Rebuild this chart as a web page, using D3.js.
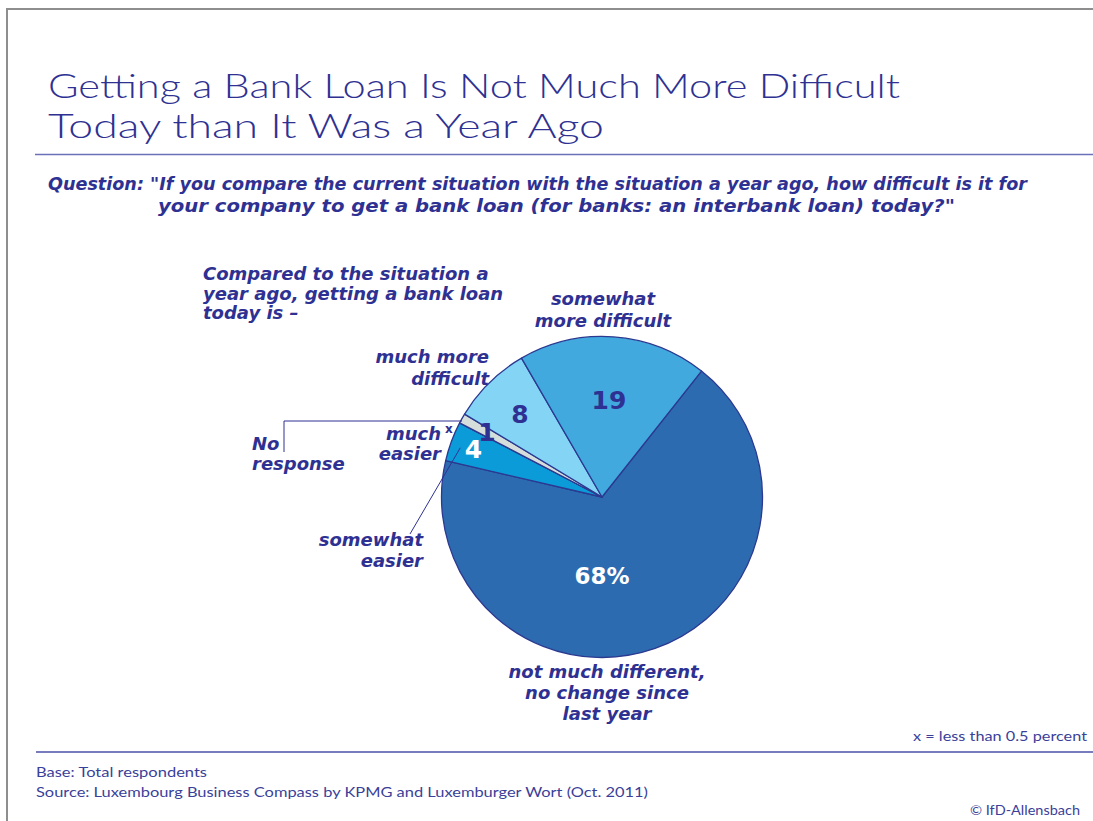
<!DOCTYPE html>
<html>
<head>
<meta charset="utf-8">
<script src="https://cdn.jsdelivr.net/npm/d3@7/dist/d3.min.js"></script>
<style>
  html, body { margin: 0; padding: 0; background: #fff; }
  svg { display: block; }
</style>
</head>
<body>
<svg id="chart" width="1093" height="821"></svg>
<script>
// Survey answers, in clockwise drawing order starting at the upper right
const categories = [
  "not much different, no change since last year",
  "somewhat easier",
  "much easier",
  "No response",
  "much more difficult",
  "somewhat more difficult"
];
const values = [68, 4, 0, 1, 8, 19];
const valueLabels = ["68%", "4", "", "1", "8", "19"];

const titleLines = [
  "Getting a Bank Loan Is Not Much More Difficult",
  "Today than It Was a Year Ago"
];
const questionLines = [
  "Question: \"If you compare the current situation with the situation a year ago, how difficult is it for",
  "your company to get a bank loan (for banks: an interbank loan) today?\""
];
const introLines = ["Compared to the situation a", "year ago, getting a bank loan", "today is \u2013"];
const footnote = "x = less than 0.5 percent";
const baseLine = "Base: Total respondents";
const sourceLine = "Source: Luxembourg Business Compass by KPMG and Luxemburger Wort (Oct. 2011)";
const copyright = "\u00a9 IfD-Allensbach";

// Styling
const sliceColors = ["#2d6bb1", "#0b9bd9", "#0b9bd9", "#d5dedb", "#84d4f6", "#41a9de"];
const valueColors = ["#ffffff", "#ffffff", "#2e3192", "#2e3192", "#2e3192", "#2e3192"];
const navy = "#2e3192";
const labelFont = "'DejaVu Sans', Verdana, sans-serif";
const thinFont = "Lato, 'Open Sans', Roboto, sans-serif";

const svg = d3.select("#chart");

// Page frame
svg.append("line").attr("x1", 6).attr("x2", 1093).attr("y1", 9).attr("y2", 9)
  .attr("stroke", "#8e8e8e").attr("stroke-width", 2);
svg.append("line").attr("x1", 7).attr("x2", 7).attr("y1", 8).attr("y2", 821)
  .attr("stroke", "#8e8e8e").attr("stroke-width", 2);

// Title
const title = svg.append("g").attr("fill", navy).attr("font-family", thinFont)
  .attr("font-weight", 300).attr("font-size", 34);
const titleWidths = [852, 556];
titleLines.forEach((t, i) => {
  title.append("text").attr("x", 48).attr("y", 98 + i * 40)
    .attr("textLength", titleWidths[i]).attr("lengthAdjust", "spacingAndGlyphs").text(t);
});
svg.append("line").attr("x1", 35).attr("x2", 1093).attr("y1", 154.5).attr("y2", 154.5)
  .attr("stroke", "#6b70b8").attr("stroke-width", 1.5);

// Question
const q = svg.append("g").attr("fill", navy).attr("font-family", labelFont)
  .attr("font-weight", "bold").attr("font-style", "italic").attr("font-size", 17);
q.append("text").attr("x", 48).attr("y", 190)
  .attr("textLength", 979).attr("lengthAdjust", "spacingAndGlyphs").text(questionLines[0]);
q.append("text").attr("x", 158).attr("y", 212)
  .attr("textLength", 797).attr("lengthAdjust", "spacingAndGlyphs").text(questionLines[1]);

// Helper for multi-line italic labels
function multiLabel(lines, x, y, anchor, lh) {
  const t = svg.append("text").attr("fill", navy).attr("font-family", labelFont)
    .attr("font-weight", "bold").attr("font-style", "italic").attr("font-size", 18)
    .attr("text-anchor", anchor);
  lines.forEach((l, i) => t.append("tspan").attr("x", x).attr("y", y + i * (lh || 21)).text(l));
  return t;
}

multiLabel(introLines, 203, 280, "start", 19.5);

// Pie
const cx = 602, cy = 497, radius = 160.5;
const startDeg = 38.3;
const pie = d3.pie().sort(null).value(d => d)
  .startAngle(startDeg * Math.PI / 180)
  .endAngle(startDeg * Math.PI / 180 + 2 * Math.PI);
const arcs = pie(values);
const arc = d3.arc().innerRadius(0).outerRadius(radius);

const pg = svg.append("g").attr("transform", `translate(${cx},${cy})`);
pg.selectAll("path.slice").data(arcs).join("path")
  .attr("class", "slice")
  .attr("d", arc)
  .attr("fill", (d, i) => sliceColors[i])
  .attr("stroke", "#2b3990").attr("stroke-width", 1.3).attr("stroke-linejoin", "round");

// Value labels: radial distance for each slice, angle from the slice middle
const labelRadius = [79, 137, 0, 132, 117, 97];
const labelAngleOverride = [Math.PI, null, null, null, null, null];
pg.selectAll("text.val").data(arcs).join("text")
  .attr("class", "val")
  .attr("transform", (d, i) => {
    const a = labelAngleOverride[i] !== null ? labelAngleOverride[i] : (d.startAngle + d.endAngle) / 2;
    const r = labelRadius[i];
    return `translate(${r * Math.sin(a)},${-r * Math.cos(a)})`;
  })
  .attr("dy", "0.36em")
  .attr("text-anchor", "middle")
  .attr("font-family", labelFont).attr("font-weight", "bold")
  .attr("font-size", (d, i) => i === 0 ? 23 : 25)
  .attr("fill", (d, i) => valueColors[i])
  .text((d, i) => valueLabels[i]);

// Category labels
multiLabel(["somewhat", "more difficult"], 603, 305, "middle", 22);
multiLabel(["much more", "difficult"], 489, 363, "end", 22);
multiLabel(["No", "response"], 252, 450, "start", 20);
multiLabel(["much", "easier"], 441, 440, "end", 20);
svg.append("text").attr("x", 445).attr("y", 433).attr("fill", navy)
  .attr("font-family", labelFont).attr("font-weight", "bold").attr("font-size", 12).text("x");
multiLabel(["somewhat", "easier"], 423, 546, "end", 21);
multiLabel(["not much different,", "no change since", "last year"], 607, 678, "middle", 21);

// Leader lines
const noResp = arcs[3];
const aNR = noResp.startAngle + (noResp.endAngle - noResp.startAngle) * 0.5;
const nrX = cx + radius * Math.sin(aNR);
svg.append("path")
  .attr("d", `M284,452 L284,421 L${nrX},421`)
  .attr("fill", "none").attr("stroke", navy).attr("stroke-width", 1);
const se = arcs[1];
const aSE = (se.startAngle + se.endAngle) / 2;
svg.append("line")
  .attr("x1", cx + 150 * Math.sin(aSE - 0.02)).attr("y1", cy - 150 * Math.cos(aSE - 0.02))
  .attr("x2", 410).attr("y2", 534)
  .attr("stroke", navy).attr("stroke-width", 1);

// Footer
svg.append("text").attr("x", 1087).attr("y", 741).attr("text-anchor", "end")
  .attr("fill", "#3a3f9a").attr("font-family", thinFont).attr("font-size", 14)
  .attr("textLength", 174).attr("lengthAdjust", "spacingAndGlyphs").text(footnote);
svg.append("line").attr("x1", 36).attr("x2", 1093).attr("y1", 752).attr("y2", 752)
  .attr("stroke", "#4b50a6").attr("stroke-width", 1.3);
const foot = svg.append("g").attr("fill", "#3a3f9a").attr("font-family", thinFont).attr("font-size", 14);
foot.append("text").attr("x", 36).attr("y", 777)
  .attr("textLength", 171).attr("lengthAdjust", "spacingAndGlyphs").text(baseLine);
foot.append("text").attr("x", 36).attr("y", 797)
  .attr("textLength", 612).attr("lengthAdjust", "spacingAndGlyphs").text(sourceLine);
foot.append("text").attr("x", 1080).attr("y", 815).attr("text-anchor", "end")
  .attr("textLength", 110).attr("lengthAdjust", "spacingAndGlyphs").text(copyright);
</script>
</body>
</html>
